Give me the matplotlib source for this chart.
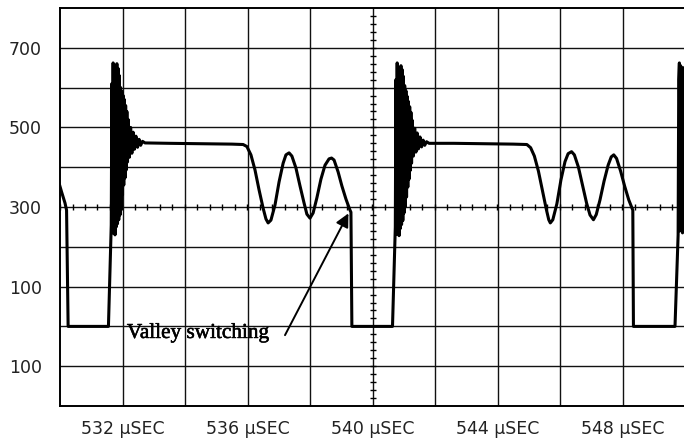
import matplotlib
matplotlib.use("Agg")
import matplotlib.pyplot as plt
import matplotlib.patheffects as pe
import numpy as np

# time in usec, voltage in V
prev_t = [529.94, 530.05, 530.16, 530.21, 530.26]
prev_v = [368, 338, 310, 292, 0]

# cycle 1: off-time, turn-on ringing, plateau, valley ringing, drop
c1_t = [531.55, 531.64,
        531.66, 531.68, 531.70, 531.72, 531.74, 531.76, 531.78, 531.80,
        531.82, 531.84, 531.86, 531.88, 531.90, 531.92, 531.94, 531.96,
        531.98, 532.00, 532.02, 532.04, 532.06, 532.08, 532.10, 532.12,
        532.14, 532.16, 532.18, 532.22, 532.26, 532.30, 532.34, 532.38,
        532.43, 532.48, 532.53, 532.58, 532.64, 532.72,
        533.50, 534.50, 535.50, 535.86,
        535.98, 536.11, 536.24, 536.37, 536.50, 536.59, 536.66, 536.75,
        536.88, 537.01, 537.14, 537.23, 537.33, 537.42, 537.55, 537.68,
        537.81, 537.90, 538.00, 538.10, 538.22, 538.35, 538.48, 538.61,
        538.69, 538.77, 538.90, 539.02, 539.15, 539.28, 539.31, 539.34]
c1_v = [0, 255,
        610, 235, 662, 245, 655, 230, 640, 250,
        660, 258, 648, 268, 630, 280, 600, 305,
        590, 330, 580, 355, 570, 373, 555, 393,
        540, 413, 520, 425, 500, 435, 488, 445,
        478, 450, 470, 455, 465, 461,
        460, 459, 458, 457,
        452, 431, 393, 343, 297, 270, 260, 267,
        305, 363, 410, 431, 436, 428, 398, 353,
        310, 282, 272, 285, 323, 370, 405, 421,
        423, 418, 388, 353, 320, 292, 287, 0]

# cycle 2
c2_t = [540.64, 540.73,
        540.75, 540.77, 540.79, 540.81, 540.83, 540.85, 540.87, 540.89,
        540.91, 540.93, 540.95, 540.97, 540.99, 541.01, 541.03, 541.05,
        541.07, 541.09, 541.11, 541.13, 541.15, 541.17, 541.19, 541.21,
        541.23, 541.25, 541.27, 541.31, 541.35, 541.39, 541.43, 541.47,
        541.52, 541.57, 541.62, 541.67, 541.73, 541.81,
        542.60, 543.60, 544.50, 544.94,
        545.06, 545.18, 545.31, 545.44, 545.56, 545.64, 545.69, 545.77,
        545.90, 546.03, 546.16, 546.26, 546.37, 546.46, 546.59, 546.72,
        546.85, 546.96, 547.07, 547.16, 547.28, 547.41, 547.54, 547.64,
        547.72, 547.81, 547.94, 548.07, 548.20, 548.33, 548.35]
c2_v = [0, 250,
        620, 232, 662, 248, 650, 228, 645, 246,
        655, 256, 645, 266, 628, 285, 605, 300,
        592, 325, 578, 350, 565, 370, 552, 392,
        538, 410, 518, 428, 498, 438, 486, 446,
        476, 451, 468, 455, 464, 460,
        460, 459, 458, 457,
        449, 428, 390, 340, 295, 268, 260, 268,
        308, 368, 414, 434, 439, 431, 400, 355,
        310, 280, 268, 281, 318, 365, 405, 426,
        431, 422, 390, 352, 318, 292, 0]

# cycle 3 (start, clipped at the right edge)
c3_t = [549.68, 549.78, 549.80, 549.82, 549.84, 549.86, 549.88, 549.90,
        549.92, 549.94, 549.96, 549.98, 550.00, 550.02]
c3_v = [0, 230, 620, 662, 240, 655, 250, 640, 235, 650, 245, 640, 260, 620]

x_labels = ["532 \u03bcSEC", "536 \u03bcSEC", "540 \u03bcSEC", "544 \u03bcSEC", "548 \u03bcSEC"]
x_ticks = [532, 536, 540, 544, 548]
y_ticks = [700, 500, 300, 100, -100]
y_labels = ["700", "500", "300", "100", "100"]

t = np.concatenate([prev_t, c1_t, c2_t, c3_t])
v = np.concatenate([prev_v, c1_v, c2_v, c3_v])

fig = plt.figure(figsize=(6.84, 4.38), dpi=100)
ax = fig.add_axes([60 / 684, 32 / 438, 625 / 684, 398 / 438])
ax.set_xlim(530, 550)
ax.set_ylim(-200, 800)

# scope graticule
for gx in np.arange(532, 550, 2):
    ax.axvline(gx, color="#111111", lw=1.0, zorder=1)
for gy in np.arange(-100, 800, 100):
    ax.axhline(gy, color="#111111", lw=1.0, zorder=1)
# center-line subdivisions
ax.plot(np.full(50, 540.0), np.arange(-200, 800, 20), ls="none",
        marker="_", ms=4, mew=1.0, color="black", zorder=1)
ax.plot(np.arange(530, 550, 0.4), np.full(50, 300.0), ls="none",
        marker="|", ms=4, mew=1.0, color="black", zorder=1)

ax.plot(t, v, color="black", lw=2.2, solid_joinstyle="round", zorder=3)

ax.annotate("", xy=(539.23, 284), xytext=(537.2, -22),
            arrowprops=dict(arrowstyle="-|>", color="black", lw=1.4,
                            mutation_scale=20, shrinkA=0, shrinkB=0))
ax.text(532.14, -29, "Valley switching", family="Liberation Serif",
        fontsize=15.3, color="black", ha="left", va="baseline",
        path_effects=[pe.withStroke(linewidth=0.4, foreground="black")])

for side in ["left", "top", "bottom"]:
    ax.spines[side].set_linewidth(1.4)
ax.spines["right"].set_visible(False)

ax.set_xticks(x_ticks)
ax.set_xticklabels(x_labels)
ax.set_yticks(y_ticks)
ax.set_yticklabels(y_labels)
ax.tick_params(length=0, labelsize=12.5, labelcolor="#222222")
ax.tick_params(axis="y", pad=13)
ax.tick_params(axis="x", pad=10)

fig.savefig("out.png", dpi=100)
